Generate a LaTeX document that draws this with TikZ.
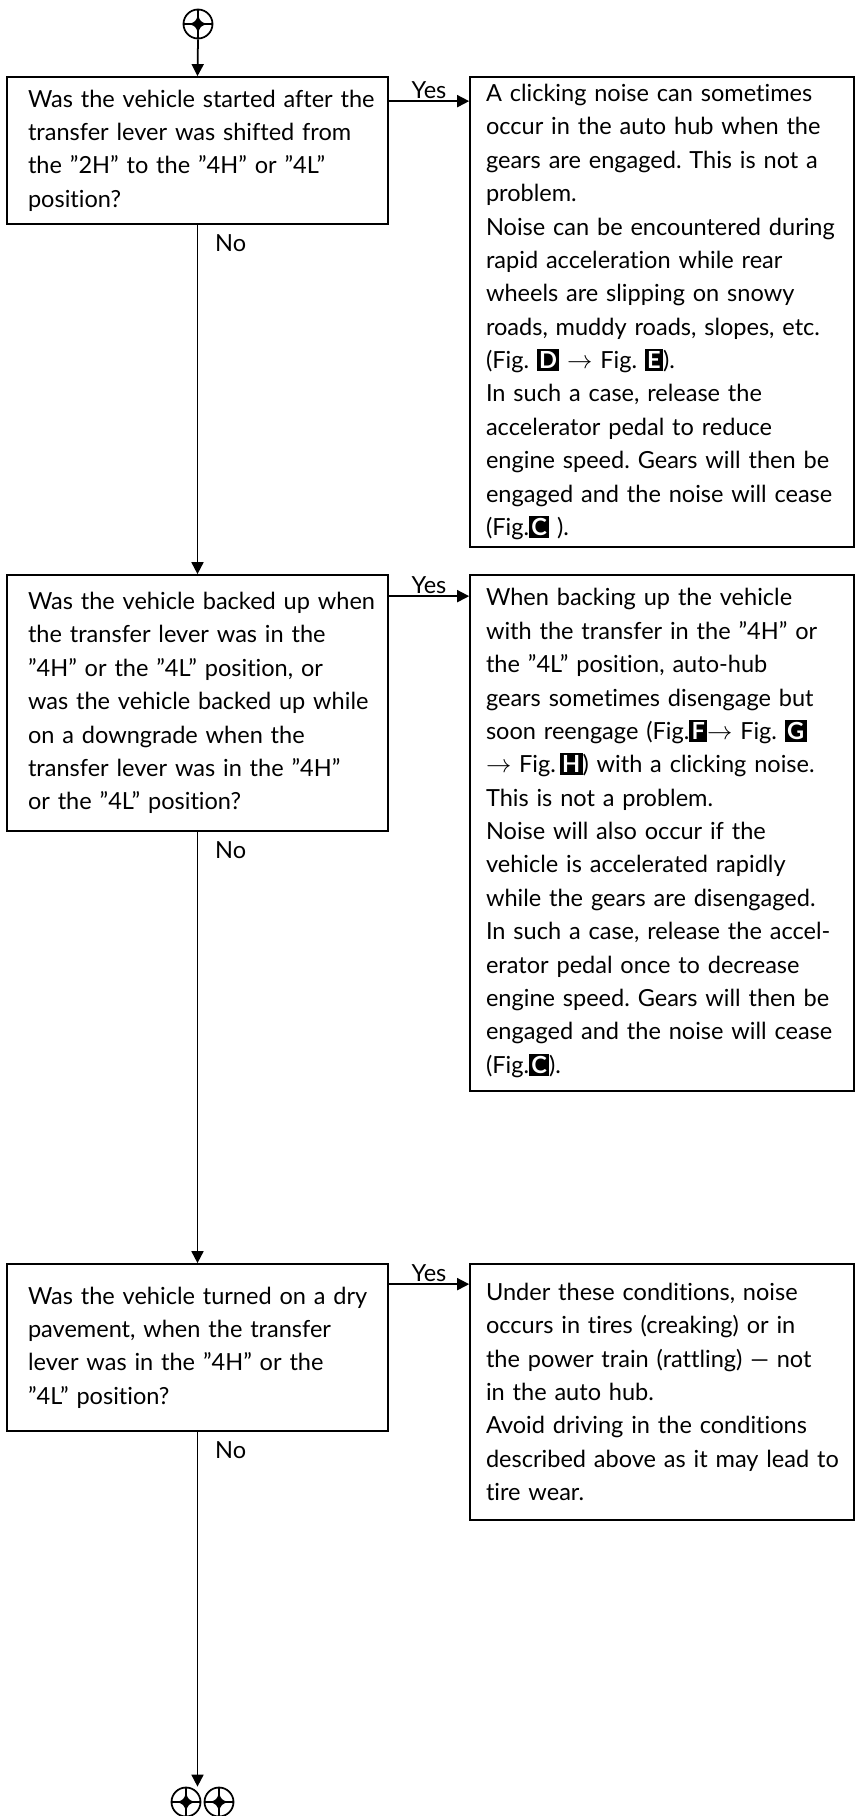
\documentclass[tikz,border=0pt]{standalone}
\usepackage{fontspec}
\setmainfont{Lato}[Ligatures={TeX,NoCommon}]
\usetikzlibrary{positioning,arrows.meta,calc}
\newcommand{\figkey}[1]{{\setlength{\fboxsep}{1.3pt}\colorbox{black}{\textcolor{white}{\textbf{#1}}}}}
\frenchspacing

\begin{document}
\begin{tikzpicture}[x=0.02cm, y=-0.02cm, line width=1pt,
  every node/.style={font=\fontsize{13.4}{19}\selectfont},
  qbox/.style={draw, rectangle, minimum width=7.62cm, text width=6.78cm, align=left,
    inner xsep=0.42cm, inner ysep=3pt,
    execute at begin node={\rightskip=0pt plus 1fil minus 5cm\relax}},
  abox/.style={draw, rectangle, minimum width=7.68cm, text width=7.04cm, align=left,
    inner xsep=0.32cm, inner ysep=3pt,
    execute at begin node={\rightskip=0pt plus 1fil minus 5cm\relax}},
  conn/.style={circle, draw, minimum size=0.58cm, inner sep=0pt,
    path picture={
      \draw[line width=0.6pt] (path picture bounding box.north) -- (path picture bounding box.south)
        (path picture bounding box.west) -- (path picture bounding box.east);
      \fill[shift={(path picture bounding box.center)}] (0,5pt) .. controls (1.4pt,1.4pt) .. (5pt,0)
        .. controls (1.4pt,-1.4pt) .. (0,-5pt) .. controls (-1.4pt,-1.4pt) .. (-5pt,0)
        .. controls (-1.4pt,1.4pt) .. (0,5pt);
    }},
  lbl/.style={inner sep=1pt},
  arr/.style={-{Triangle[length=0.24cm,width=0.24cm]}}]
  \useasboundingbox (0,0) rectangle (859,1816);

  \node[conn] (start) at (198,24) {};

  % questions
  \node[qbox, minimum height=2.94cm] (q1) at (197.5,150.5) {Was the vehicle started after the\\
    transfer lever was shifted from\\
    the ''2H'' to the ''4H'' or ''4L''\\
    position?};
  \node[qbox, minimum height=5.12cm] (q2) at (197.5,703) {Was the vehicle backed up when\\
    the transfer lever was in the\\
    ''4H'' or the ''4L'' position, or\\
    was the vehicle backed up while\\
    on a downgrade when the\\
    transfer lever was in the ''4H''\\
    or the ''4L'' position?};
  \node[qbox, minimum height=3.34cm] (q3) at (197.5,1347.5) {Was the vehicle turned on a dry\\
    pavement, when the transfer\\
    lever was in the ''4H'' or the\\
    ''4L'' position?};

  % answers
  \node[abox, minimum height=9.4cm] (a1) at (662,312) {A clicking noise can sometimes\\
    occur in the auto hub when the\\
    gears are engaged. This is not a\\
    problem.\\
    Noise can be encountered during\\
    rapid acceleration while rear\\
    wheels are slipping on snowy\\
    roads, muddy roads, slopes, etc.\\
    (Fig. \figkey{D} $\rightarrow$ Fig. \figkey{E}).\\
    In such a case, release the\\
    accelerator pedal to reduce\\
    engine speed. Gears will then be\\
    engaged and the noise will cease\\
    (Fig.\figkey{C} ).};
  \node[abox, minimum height=10.32cm] (a2) at (662,833) {When backing up the vehicle\\
    with the transfer in the ''4H'' or\\
    the ''4L'' position, auto-hub\\
    gears sometimes disengage but\\
    soon reengage (Fig.\figkey{F}$\rightarrow$ Fig. \figkey{G}\\
    $\rightarrow$ Fig.\,\figkey{H}) with a clicking noise.\\
    This is not a problem.\\
    Noise will also occur if the\\
    vehicle is accelerated rapidly\\
    while the gears are disengaged.\\
    In such a case, release the accel-\\
    erator pedal once to decrease\\
    engine speed. Gears will then be\\
    engaged and the noise will cease\\
    (Fig.\figkey{C}).};
  \node[abox, minimum height=5.12cm] (a3) at (662,1392) {Under these conditions, noise\\
    occurs in tires (creaking) or in\\
    the power train (rattling) --- not\\
    in the auto hub.\\
    Avoid driving in the conditions\\
    described above as it may lead to\\
    tire wear.};

  \node[conn] (end1) at (186,1802) {};
  \node[conn] (end2) at (219,1802) {};

  % No path
  \draw[arr] (start.south) -- (q1.north);
  \draw[arr] (q1.south) -- (q2.north);
  \draw[arr] (q2.south) -- (q3.north);
  \draw[arr] (q3.south) -- (q3.south |- end1.north);
  \node[lbl, anchor=north west] (no1) at ([xshift=0.3cm, yshift=-0.14cm]q1.south) {No};
  \node[lbl, anchor=north west] (no2) at ([xshift=0.3cm, yshift=-0.14cm]q2.south) {No};
  \node[lbl, anchor=north west] (no3) at ([xshift=0.3cm, yshift=-0.14cm]q3.south) {No};

  % Yes path
  \draw[arr] (q1.north east) ++(0,25) coordinate (yes1s) -- node[lbl, above] (yes1) {Yes} (yes1s -| a1.west);
  \draw[arr] (q2.north east) ++(0,22) coordinate (yes2s) -- node[lbl, above] (yes2) {Yes} (yes2s -| a2.west);
  \draw[arr] (q3.north east) ++(0,21) coordinate (yes3s) -- node[lbl, above] (yes3) {Yes} (yes3s -| a3.west);
\end{tikzpicture}
\end{document}
